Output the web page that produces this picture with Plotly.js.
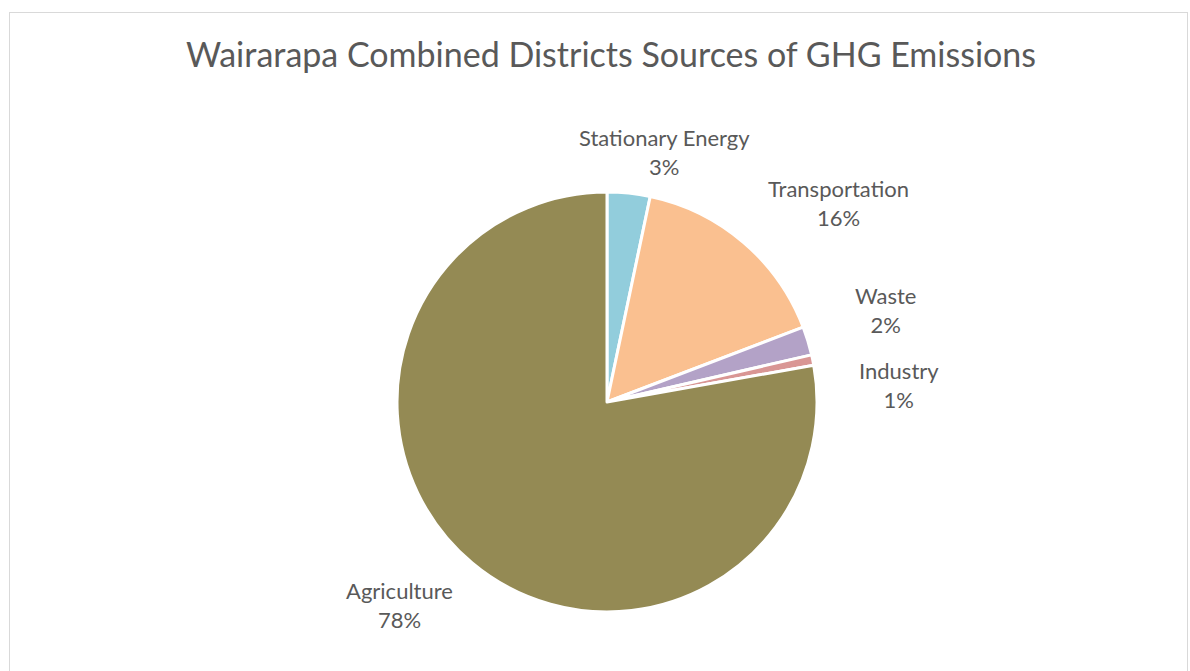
<!DOCTYPE html>
<html>
<head>
<meta charset="utf-8">
<script src="https://cdn.plot.ly/plotly-3.0.1.min.js"></script>
<style>
html,body{margin:0;padding:0;background:#fff;}
#wrap{position:relative;width:1190px;height:671px;overflow:hidden;}
#chart{position:absolute;left:0;top:0;width:1190px;height:671px;}
#frame{position:absolute;left:9px;top:12px;width:1179px;height:700px;border:1px solid #d9d9d9;pointer-events:none;box-sizing:border-box;}
</style>
</head>
<body>
<div id="wrap"><div id="chart"></div><div id="frame"></div></div>
<script>
// Data
const categories = ["Stationary Energy", "Transportation", "Waste", "Industry", "Agriculture"];
const values = [3.3, 15.9, 2.2, 0.8, 77.8];

// Styles
const colors = ["#92CDDC", "#FAC090", "#B3A2C7", "#D99694", "#948A54"];
// label centres in pixels (layout only)
const labelPx = [[664, 152], [838, 203], [885, 310], [899, 385], [399, 605]];

const W = 1190, H = 671;
const m = {l: 397, r: 373, t: 192, b: 59};
const pw = W - m.l - m.r, ph = H - m.t - m.b;
const total = values.reduce((a, b) => a + b, 0);

const annotations = categories.map((c, i) => ({
  text: c + "<br>" + Math.round(values[i] / total * 100) + "%",
  xref: "paper", yref: "paper",
  x: (labelPx[i][0] - m.l) / pw,
  y: (H - m.b - labelPx[i][1]) / ph,
  xanchor: "center", yanchor: "middle",
  showarrow: false, align: "center",
  font: {family: "Lato, 'Open Sans', sans-serif", size: 22, color: "#595959"}
}));

const trace = {
  type: "pie",
  labels: categories,
  values: values,
  sort: false,
  direction: "clockwise",
  rotation: 0,
  marker: {colors: colors, line: {color: "#ffffff", width: 3}},
  textinfo: "none",
  hoverinfo: "label+percent",
  showlegend: false
};

const layout = {
  width: W, height: H,
  margin: m,
  paper_bgcolor: "#ffffff",
  plot_bgcolor: "#ffffff",
  showlegend: false,
  title: {
    text: "Wairarapa Combined Districts Sources of GHG Emissions",
    xref: "container", yref: "container",
    x: 611 / W, y: 1 - 55 / H, xanchor: "center", yanchor: "middle",
    font: {family: "Lato, 'Open Sans', sans-serif", size: 34, color: "#595959"}
  },
  annotations: annotations
};

Plotly.newPlot("chart", [trace], layout, {displayModeBar: false, staticPlot: true});
</script>
</body>
</html>
